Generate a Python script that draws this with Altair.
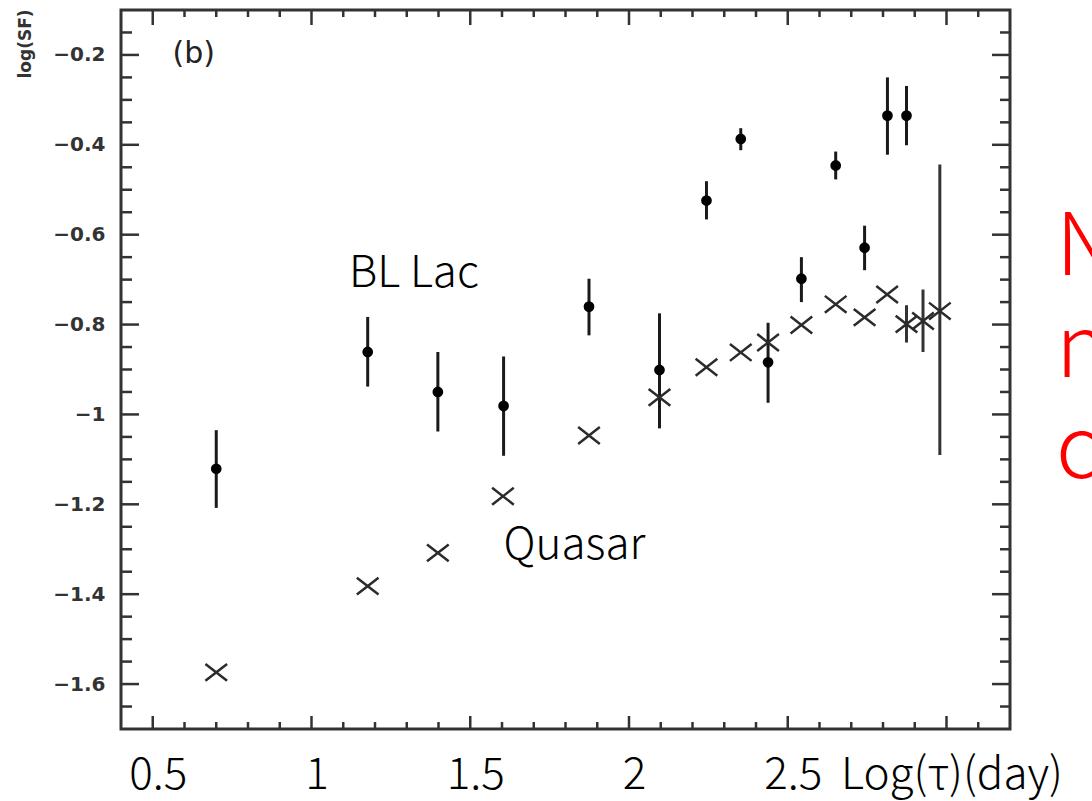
import altair as alt
import pandas as pd

# ---------------- data ----------------
bl_x = [0.700, 1.177, 1.398, 1.605, 1.874, 2.096, 2.244, 2.352, 2.438, 2.543, 2.651, 2.742, 2.814, 2.874]
bl_y = [-1.121, -0.861, -0.950, -0.981, -0.760, -0.901, -0.524, -0.387, -0.884, -0.698, -0.446, -0.629, -0.335, -0.335]
bl_lo = [-1.208, -0.938, -1.038, -1.092, -0.824, -1.031, -0.566, -0.412, -0.974, -0.750, -0.477, -0.679, -0.422, -0.401]
bl_hi = [-1.035, -0.783, -0.861, -0.871, -0.698, -0.775, -0.481, -0.363, -0.796, -0.650, -0.415, -0.580, -0.250, -0.269]

q_x = [0.700, 1.177, 1.398, 1.603, 1.874, 2.096, 2.244, 2.352, 2.438, 2.543, 2.651, 2.742, 2.813, 2.874, 2.926, 2.979]
q_y = [-1.574, -1.382, -1.308, -1.182, -1.047, -0.962, -0.895, -0.862, -0.840, -0.801, -0.755, -0.784, -0.733, -0.799, -0.792, -0.770]

q_err_x = [2.874, 2.926, 2.979]
q_err_lo = [-0.840, -0.861, -1.090]
q_err_hi = [-0.757, -0.722, -0.444]

x_major = [0.5, 1.0, 1.5, 2.0, 2.5, 3.0]
x_minor = [0.6, 0.7, 0.8, 0.9, 1.1, 1.2, 1.3, 1.4, 1.6, 1.7, 1.8, 1.9,
           2.1, 2.2, 2.3, 2.4, 2.6, 2.7, 2.8, 2.9, 3.1]
y_major = [-1.6, -1.4, -1.2, -1.0, -0.8, -0.6, -0.4, -0.2]
y_minor = [-1.65, -1.55, -1.5, -1.45, -1.35, -1.3, -1.25, -1.15, -1.1, -1.05,
           -0.95, -0.9, -0.85, -0.75, -0.7, -0.65, -0.55, -0.5, -0.45,
           -0.35, -0.3, -0.25, -0.15]

ann_text = ["BL Lac", "Quasar"]
ann_x = [1.118, 1.605]
ann_y = [-0.717, -1.321]

panel_text = ["(b)"]
panel_x = [0.562]
panel_y = [-0.2185]

y_title = ["log(SF)"]
red_lines = ["N", "n", "c"]

# ---------------- layout ----------------
W, H = 889, 719
CJK = "Noto Sans CJK SC"
SANS = "DejaVu Sans"
INK = "#2b2b2b"

x_scale = alt.Scale(domain=[0.4, 3.2], nice=False, zero=False)
y_scale = alt.Scale(domain=[-1.7, -0.1], nice=False, zero=False)

x_axis = alt.Axis(
    values=x_major, format="~g",
    labelExpr="datum.value == 3 ? 'Log(τ)(day)' : datum.label",
    ticks=False, tickSize=0, domain=False, grid=False,
    labelFont=CJK, labelFontSize=44, labelFontWeight=300, labelColor="#000",
    labelPadding=59, labelBaseline="alphabetic", labelOffset=5, labelLimit=0,
    labelFlush=False, labelOverlap=False, title=None,
)
y_axis = alt.Axis(
    values=y_major, format="~g",
    labelExpr="(datum.value < 0 ? '\u2212' : '') + format(abs(datum.value), '~g')",
    ticks=False, tickSize=0, domain=False, grid=False,
    labelFont=SANS, labelFontSize=20, labelFontWeight="bold", labelColor="#333",
    labelPadding=16, labelLimit=0, labelFlush=False, labelOverlap=False, title=None,
)

bl_df = pd.DataFrame({"x": bl_x, "y": bl_y, "lo": bl_lo, "hi": bl_hi})
q_df = pd.DataFrame({"x": q_x, "y": q_y})
qe_df = pd.DataFrame({"x": q_err_x, "lo": q_err_lo, "hi": q_err_hi})


def X(field):
    return alt.X(field, scale=x_scale, axis=x_axis)


def Y(field):
    return alt.Y(field, scale=y_scale, axis=y_axis)


bl_err = alt.Chart(bl_df).mark_rule(strokeWidth=3, color="#1a1a1a").encode(
    x=X("x:Q"), y=Y("lo:Q"), y2="hi:Q",
)
bl_pts = alt.Chart(bl_df).mark_point(
    shape="circle", filled=True, size=115, color="#000", opacity=1
).encode(x=X("x:Q"), y=Y("y:Q"))

q_err = alt.Chart(qe_df).mark_rule(strokeWidth=3, color="#333").encode(
    x=X("x:Q"), y=Y("lo:Q"), y2="hi:Q"
)
q_pts = alt.Chart(q_df).mark_point(
    shape="M-1,-0.78L1,0.78M-1,0.78L1,-0.78",
    filled=False, size=470, color=INK, strokeWidth=2.5, opacity=1,
).encode(x=X("x:Q"), y=Y("y:Q"))


def xticks(vals, top, length):
    d = pd.DataFrame({"v": vals})
    if top:
        yy, yy2 = alt.value(0), alt.value(length)
    else:
        yy, yy2 = alt.value(H), alt.value(H - length)
    return alt.Chart(d).mark_rule(strokeWidth=2.5, color="#333").encode(
        x=X("v:Q"), y=yy, y2=yy2
    )


def yticks(vals, right, length):
    d = pd.DataFrame({"v": vals})
    if right:
        xx, xx2 = alt.value(W), alt.value(W - length)
    else:
        xx, xx2 = alt.value(0), alt.value(length)
    return alt.Chart(d).mark_rule(strokeWidth=2.5, color="#333").encode(
        y=Y("v:Q"), x=xx, x2=xx2
    )


ticks = [
    xticks(x_major, False, 13), xticks(x_minor, False, 7),
    xticks(x_major, True, 15), xticks(x_minor, True, 7),
    yticks(y_major, False, 18), yticks(y_minor, False, 11),
    yticks(y_major, True, 18), yticks(y_minor, True, 10),
]

ann = alt.Chart(pd.DataFrame({"x": ann_x, "y": ann_y, "t": ann_text})).mark_text(
    align="left", baseline="alphabetic", font=CJK, fontSize=44, fontWeight=300, color="#000"
).encode(x=X("x:Q"), y=Y("y:Q"), text="t:N")

panel = alt.Chart(pd.DataFrame({"x": panel_x, "y": panel_y, "t": panel_text})).mark_text(
    align="left", baseline="alphabetic", font=SANS, fontSize=30, color="#222"
).encode(x=X("x:Q"), y=Y("y:Q"), text="t:N")

ytitle = alt.Chart(pd.DataFrame({"t": y_title})).mark_text(
    angle=270, align="center", baseline="middle", font=SANS, fontSize=17,
    fontWeight="bold", color="#333"
).encode(text="t:N", x=alt.value(-95), y=alt.value(34))

red_layers = []
for line, base in zip(red_lines, [265, 367, 468]):
    red_layers.append(
        alt.Chart(pd.DataFrame({"t": [line]})).mark_text(
            align="left", baseline="alphabetic", font=CJK, fontSize=86,
            fontWeight=300, color="#FF0000"
        ).encode(text="t:N", x=alt.value(935), y=alt.value(base))
    )

chart = alt.layer(
    bl_err, q_err, *ticks, bl_pts, q_pts, ann, panel, ytitle, *red_layers
).properties(
    width=W, height=H,
    autosize=alt.AutoSizeParams(type="none"),
    padding={"left": 121, "top": 10, "right": 82, "bottom": 72},
    background="white",
).configure_view(stroke="#333", strokeWidth=3)

chart.save("out.html", embed_options={"renderer": "svg", "actions": False})
